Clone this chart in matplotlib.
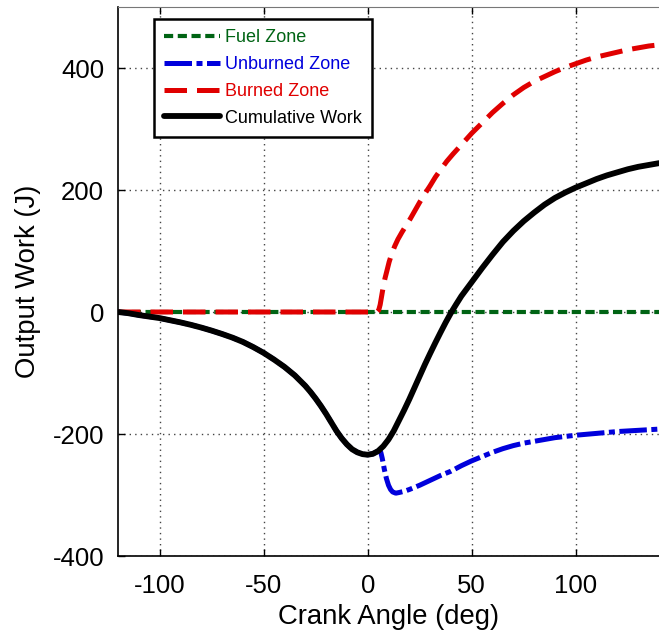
import matplotlib
matplotlib.use("Agg")
import matplotlib.pyplot as plt

# ---------------------------------------------------------------------------
# Data (crank angle in deg, work in J)
# ---------------------------------------------------------------------------

fuel_ca   = [-120, 140]
fuel_work = [0, 0]

cum_ca   = [-120, -115, -110, -105, -100, -95, -90, -85, -80, -75, -70, -65,
            -60, -55, -50, -45, -40, -35, -30, -27.5, -25, -22.5, -20, -17.5,
            -15, -12.5, -10, -7.5, -5, -2.5, 0, 2.5, 5, 7.5, 10, 12.5, 15,
            17.5, 20, 22.5, 25, 27.5, 30, 32.5, 35, 37.5, 40, 42.5, 45, 50,
            55, 60, 65, 70, 75, 80, 85, 90, 95, 100, 105, 110, 115, 120, 125,
            130, 135, 140]
cum_work = [0, -2, -5, -7.5, -10, -13.5, -17, -21, -25.5, -30.5, -36, -42,
            -49, -57.5, -67, -78, -90, -104, -121, -131, -142, -154, -167,
            -181, -195, -207, -217, -225, -230, -233, -234, -232.5, -228,
            -220, -209, -195, -178, -161, -143, -124, -105, -86, -68, -50.5,
            -33.5, -17, -1.5, 12.5, 26, 49, 72, 94, 115, 133, 149, 163, 176,
            187, 196, 204, 211, 218, 224, 229, 234, 238, 241, 244]

# unburned zone follows the cumulative curve until ignition (~5 deg)
unb_ca   = [-120, -115, -110, -105, -100, -95, -90, -85, -80, -75, -70, -65,
            -60, -55, -50, -45, -40, -35, -30, -27.5, -25, -22.5, -20, -17.5,
            -15, -12.5, -10, -7.5, -5, -2.5, 0, 2.5, 5, 6.3, 7, 8, 9, 10, 11,
            12, 13.5, 15, 17.5, 20, 25, 30, 35, 40, 45, 50, 55, 60, 65, 70,
            75, 80, 85, 90, 95, 100, 110, 120, 130, 140]
unb_work = [0, -2, -5, -7.5, -10, -13.5, -17, -21, -25.5, -30.5, -36, -42,
            -49, -57.5, -67, -78, -90, -104, -121, -131, -142, -154, -167,
            -181, -195, -207, -217, -225, -230, -233, -234, -232.5, -228,
            -230, -240, -258, -273, -284, -291, -295, -297, -296, -294, -291,
            -284, -276, -268, -261, -252, -244, -237, -230, -224, -219, -215,
            -212, -209, -206, -204, -202, -199, -196, -194, -192]

brn_ca   = [-120, 4.5, 5.3, 6, 6.8, 7.5, 8.3, 9.2, 10.3, 11.5, 13, 14.5, 16.5,
            18.5, 20.5, 22.5, 25, 27.5, 30, 32.5, 35, 38, 41, 45, 50, 55, 60,
            65, 70, 75, 80, 85, 90, 95, 100, 105, 110, 115, 120, 125, 130,
            135, 140]
brn_work = [0, 0, 3, 12, 28, 42, 55, 67, 82, 95, 108, 119, 131, 142, 153,
            165, 180, 194, 207, 221, 233, 247, 259, 274, 293, 310, 327, 342,
            356, 368, 378, 386, 394, 401, 407, 413, 418, 422, 426, 430, 433,
            436, 438]

XTICKS = [-100, -50, 0, 50, 100]
YTICKS = [-400, -200, 0, 200, 400]

GREEN = "#006414"
BLUE  = "#0000DC"
RED   = "#E00000"

plt.rcParams.update({
    "font.family":        ["Liberation Sans", "DejaVu Sans"],
    "font.size":          18.5,
    "axes.unicode_minus": False,
})

fig = plt.figure(figsize=(6.59, 6.42), dpi=100)
ax = fig.add_axes([118 / 659, 86 / 642, 541 / 659, 549 / 642])

ax.plot(fuel_ca, fuel_work, color=GREEN, lw=3.0, dashes=(2.2, 1.1),
        label="Fuel Zone", zorder=3)
ax.plot(unb_ca, unb_work, color=BLUE, lw=3.6, dashes=(5.5, 0.9, 1.2, 0.9),
        label="Unburned Zone", zorder=4)
ax.plot(brn_ca, brn_work, color=RED, lw=3.6, dashes=(4.5, 2.0),
        label="Burned Zone", zorder=5)
ax.plot(cum_ca, cum_work, color="black", lw=4.2, solid_capstyle="round",
        solid_joinstyle="round", label="Cumulative Work", zorder=6)

ax.set_xlim(-120, 140)
ax.set_ylim(-400, 500)
ax.set_xticks(XTICKS)
ax.set_yticks(YTICKS)
ax.grid(True, linestyle=(0, (1, 3)), color="#444444", linewidth=1.0)
ax.tick_params(direction="in", length=5, width=1, top=True, right=False,
               labelsize=18.5)
ax.tick_params(axis="x", pad=13)
ax.tick_params(axis="y", pad=10)

ax.spines["right"].set_visible(False)
ax.spines["top"].set_color("#777777")
for s in ("left", "bottom"):
    ax.spines[s].set_linewidth(1.2)

ax.set_xlabel("Crank Angle (deg)", fontsize=19.8, labelpad=4)
ax.set_ylabel("Output Work (J)", fontsize=19.8, labelpad=8)

leg = ax.legend(loc="upper left", bbox_to_anchor=(0.0665, 0.978),
                borderaxespad=0, fontsize=13, frameon=True, fancybox=False,
                framealpha=1, edgecolor="black", handlelength=3.1,
                handletextpad=0.3, labelspacing=0.55, borderpad=0.55)
leg.get_frame().set_linewidth(1.8)
for txt, col in zip(leg.get_texts(), [GREEN, BLUE, RED, "black"]):
    txt.set_color(col)

fig.savefig("out.png", dpi=100)
